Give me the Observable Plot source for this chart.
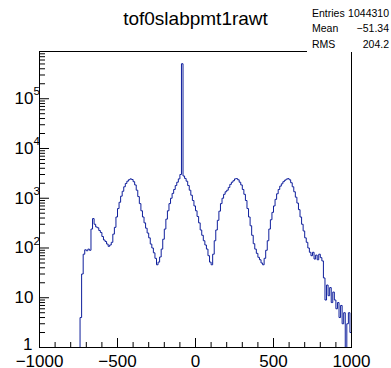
<!DOCTYPE html>
<html><head><meta charset="utf-8">
<script src="https://cdn.jsdelivr.net/npm/d3@7"></script>
<script src="https://cdn.jsdelivr.net/npm/@observablehq/plot@0.6"></script>
<style>
body{margin:0;background:#fff;}
#wrap{position:relative;width:391px;height:368px;font-family:"Liberation Sans",Arial,Helvetica,sans-serif;}
#title{position:absolute;left:0;width:391px;text-align:center;top:9px;font-size:19px;line-height:19px;}
#stats{position:absolute;left:307px;top:0;width:84px;height:52px;background:#fff;font-size:10.5px;line-height:10.5px;}
.row{position:absolute;left:5px;right:2px;height:10.5px;}
.row .k{position:absolute;left:0;}
.row .v{position:absolute;right:0;}
</style></head>
<body><div id="wrap"></div>
<script>
// Histogram title and stats
const title = "tof0slabpmt1rawt";
const statNames = ["Entries", "Mean", "RMS"];
const statValues = ["1044310", "\u221251.34", "204.2"];

// Binning (10-unit bins from -750 to 1000)
const binStart = -750;
const binWidth = 10;
// Counts per bin
const counts = [
  0, 4, 30, 75, 92,
  88, 95, 90, 240, 390, 300, 265, 255, 225, 205,
  170, 145, 135, 120, 108, 115, 130, 190, 260, 420,
  620, 830, 1100, 1380, 1700, 1980, 2200, 2350, 2450, 2380,
  2150, 1850, 1450, 1080, 780, 560, 420, 320, 250, 200,
  160, 120, 100, 80, 62, 46, 52, 66, 95, 150,
  240, 380, 560, 780, 1000, 1250, 1500, 1800, 2100, 2450,
  3000, 505000, 2800, 2500, 2200, 1800, 1450, 1150, 900, 700,
  560, 430, 320, 230, 180, 140, 115, 95, 70, 52,
  46, 75, 140, 230, 360, 550, 780, 1000, 1200, 1350,
  1450, 1650, 1900, 2100, 2250, 2450, 2480, 2350, 2100, 1850,
  1500, 1200, 900, 620, 420, 280, 180, 122, 95, 78,
  65, 58, 50, 46, 62, 90, 140, 240, 370, 520,
  700, 950, 1230, 1500, 1750, 1950, 2150, 2300, 2420, 2480,
  2350, 2050, 1700, 1350, 1050, 800, 590, 420, 300, 220,
  160, 130, 100, 82, 70, 82, 60, 72, 58, 75,
  64, 55, 25, 9, 18, 11, 16, 8, 13, 9,
  6, 8, 4, 7, 3, 5, 0, 3, 5, 2
];

// Axis ticks and labels
const xTicks = [-1000, -500, 0, 500, 1000];
const xLabels = ["\u22121000", "\u2212500", "0", "500", "1000"];
const xMinorTicks = [-900, -800, -700, -600, -400, -300, -200, -100, 100, 200, 300, 400, 600, 700, 800, 900];
const yTicks = [1, 10, 100, 1000, 10000, 100000];
const yLabelBase = ["1", "10", "10", "10", "10", "10"];
const yLabelExp = ["", "", "2", "3", "4", "5"];
const yMax = 8.9e5;

// Layout
const W = 391, H = 368, mL = 39, mR = 40, mT = 51, mB = 21;
const fw = W - mL - mR, fh = H - mT - mB;

// Build step points
const points = counts.map((c, i) => ({x: binStart + i * binWidth, y: c}));
points.push({x: binStart + counts.length * binWidth, y: counts[counts.length - 1]});

const yMinor = [];
for (let e = 0; e <= 5; e++) for (let m = 2; m <= 9; m++) { const v = m * Math.pow(10, e); if (v < yMax) yMinor.push(v); }

const yLabels = yTicks.map((v, i) => ({v, base: yLabelBase[i], exp: yLabelExp[i]}));
const xLab = xTicks.map((v, i) => ({v, label: xLabels[i]}));
const lineColor = "#0f1f9c";

const chart = Plot.plot({
  width: W, height: H,
  marginLeft: mL, marginRight: mR, marginTop: mT, marginBottom: mB,
  style: {fontFamily: "Liberation Sans, Arial, Helvetica, sans-serif", fontSize: "17px", background: "white", color: "black"},
  x: {domain: [-1000, 1000], axis: null},
  y: {type: "log", domain: [1, yMax], axis: null},
  marks: [
    Plot.line(points, {x: "x", y: d => Math.max(d.y, 1), curve: "step-after", stroke: lineColor, strokeWidth: 1, clip: true}),
    Plot.frame({stroke: "black", strokeWidth: 1}),
    // ticks pointing into the frame
    Plot.tickX(xTicks, {x: d => d, stroke: "black", insetTop: fh - 9}),
    Plot.tickX(xMinorTicks, {x: d => d, stroke: "black", insetTop: fh - 5}),
    Plot.tickY(yTicks, {y: d => d, stroke: "black", insetRight: fw - 10}),
    Plot.tickY(yMinor, {y: d => d, stroke: "black", insetRight: fw - 6}),
    // x labels
    Plot.text(xLab, {x: "v", text: "label", frameAnchor: "bottom", lineAnchor: "top", dy: 7.5, fontSize: 17}),
    // y labels
    Plot.text(yLabels.filter(d => d.v > 1), {y: "v", text: "base", frameAnchor: "left", textAnchor: "end", dx: -6, fontSize: 17}),
    Plot.text(yLabels.filter(d => d.v === 1), {y: "v", text: "base", frameAnchor: "left", textAnchor: "end", dx: -7, dy: -3, fontSize: 17}),
    Plot.text(yLabels, {y: "v", text: "exp", frameAnchor: "left", textAnchor: "start", dx: -6, dy: -7, fontSize: 11.5})
  ]
});

const wrap = document.getElementById("wrap");
chart.style.position = "absolute"; chart.style.left = "0"; chart.style.top = "0";
wrap.appendChild(chart);
const t = document.createElement("div");
t.id = "title"; t.textContent = title; wrap.appendChild(t);
const s = document.createElement("div");
s.id = "stats";
const baselines = [16.7, 32, 47.7];
statNames.forEach((n, i) => {
  const r = document.createElement("div");
  r.className = "row";
  r.style.top = (baselines[i] - 8.9) + "px";
  r.innerHTML = `<span class="k">${n}</span><span class="v">${statValues[i]}</span>`;
  s.appendChild(r);
});
wrap.appendChild(s);
</script>
</body></html>
